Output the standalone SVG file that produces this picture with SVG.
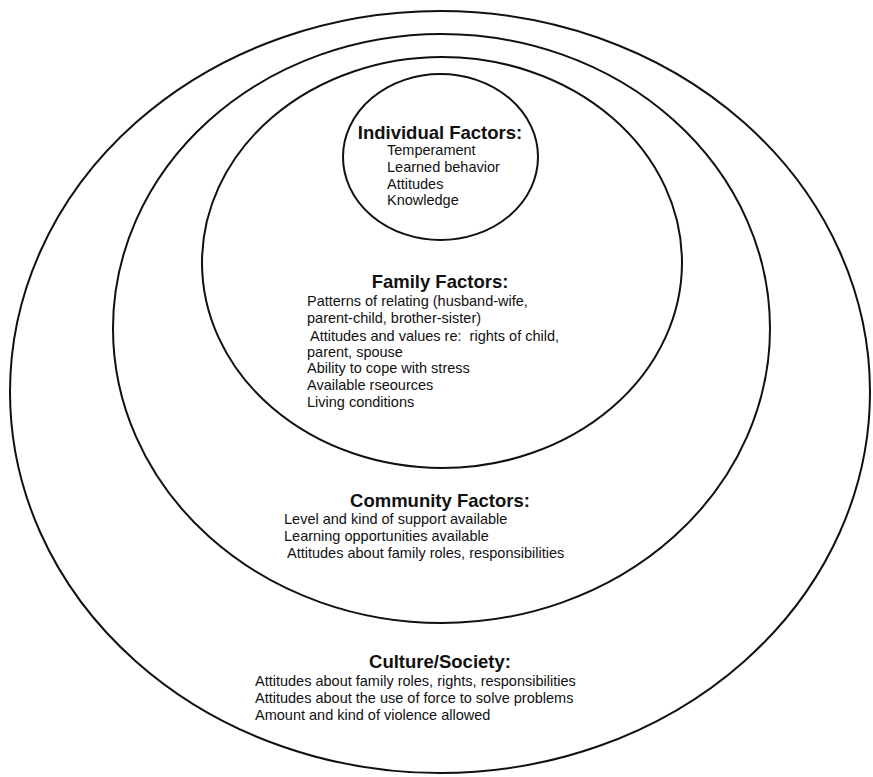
<svg xmlns="http://www.w3.org/2000/svg" width="873" height="777" viewBox="0 0 873 777">
<style>
.ring{fill:none;stroke:#111;stroke-width:2}
.title{font-family:"Liberation Sans",Arial,sans-serif;font-weight:bold;font-size:18.5px;fill:#111;text-anchor:middle}
.item{font-family:"Liberation Sans",Arial,sans-serif;font-size:14.5px;fill:#111}
</style>
<rect width="873" height="777" fill="#fff"/>
<g id="culture">
<ellipse class="ring" cx="440" cy="392" rx="430" ry="381"/>
<text class="title" x="440" y="668">Culture/Society:</text>
<text class="item" x="255" y="686">Attitudes about family roles, rights, responsibilities</text>
<text class="item" x="255" y="703">Attitudes about the use of force to solve problems</text>
<text class="item" x="255" y="720">Amount and kind of violence allowed</text>
</g>
<g id="community">
<ellipse class="ring" cx="441.5" cy="328.5" rx="328.5" ry="294.5"/>
<text class="title" x="440" y="507">Community Factors:</text>
<text class="item" x="284" y="524">Level and kind of support available</text>
<text class="item" x="284" y="541">Learning opportunities available</text>
<text class="item" x="287" y="558">Attitudes about family roles, responsibilities</text>
</g>
<g id="family">
<ellipse class="ring" cx="442" cy="262.5" rx="240" ry="205.5"/>
<text class="title" x="440" y="288">Family Factors:</text>
<text class="item" x="307" y="306">Patterns of relating (husband-wife,</text>
<text class="item" x="307" y="323">parent-child, brother-sister)</text>
<text class="item" x="310" y="341" xml:space="preserve">Attitudes and values re:  rights of child,</text>
<text class="item" x="307" y="357">parent, spouse</text>
<text class="item" x="307" y="373">Ability to cope with stress</text>
<text class="item" x="307" y="390">Available rseources</text>
<text class="item" x="307" y="407">Living conditions</text>
</g>
<g id="individual">
<ellipse class="ring" cx="440.5" cy="157" rx="97.5" ry="83"/>
<text class="title" x="440" y="139">Individual Factors:</text>
<text class="item" x="387" y="155">Temperament</text>
<text class="item" x="387" y="172">Learned behavior</text>
<text class="item" x="387" y="189">Attitudes</text>
<text class="item" x="387" y="205">Knowledge</text>
</g>
</svg>
